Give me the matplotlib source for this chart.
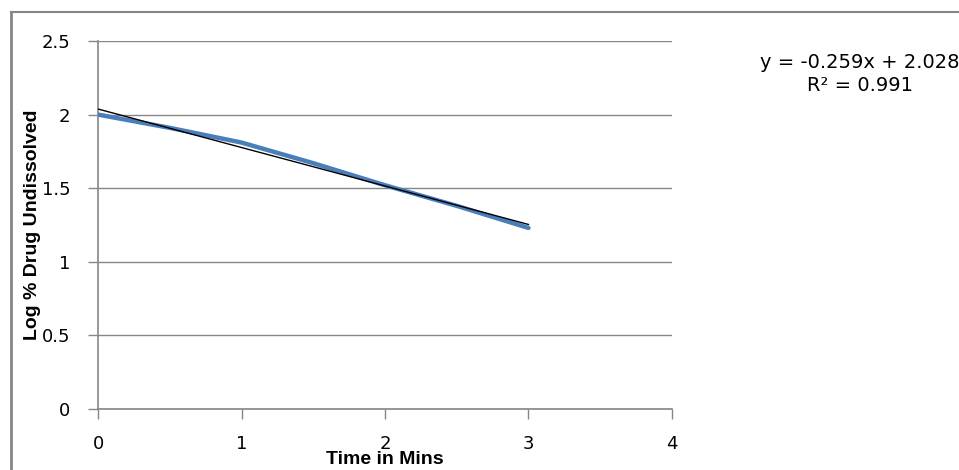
import matplotlib.pyplot as plt
import numpy as np
from matplotlib.lines import Line2D

#%% Data
time_mins = [0, 0.5, 1, 1.5, 2, 2.5, 3]
log_undissolved = [2.0, 1.91, 1.81, 1.67, 1.52, 1.38, 1.23]
eq_text = "y = -0.259x + 2.028"
r2_text = "R² = 0.991"

x_ticks = [0, 1, 2, 3, 4]
y_ticks = [0, 0.5, 1, 1.5, 2, 2.5]

#%% Plot
grey = '#868686'
fig = plt.figure(figsize=(9.59, 4.70), dpi=100)
ax = fig.add_axes([0.1022, 0.1298, 0.5985, 0.783])

ax.plot(time_mins, log_undissolved, color='#4a7ebb', linewidth=3.2, solid_capstyle='round', zorder=3)

# linear trendline
coef = np.polyfit(time_mins, log_undissolved, 1)
xt = np.array([time_mins[0], time_mins[-1]])
ax.plot(xt, np.polyval(coef, xt), color='black', linewidth=1, zorder=4)

ax.set_xlim(0, 4)
ax.set_ylim(0, 2.5)
ax.set_xticks(x_ticks)
ax.set_yticks(y_ticks)
ax.set_yticklabels([f"{v:g}" for v in y_ticks])
ax.yaxis.grid(True, color=grey, linewidth=1)
ax.set_axisbelow(True)
for s in ['top', 'right']:
    ax.spines[s].set_visible(False)
for s in ['left', 'bottom']:
    ax.spines[s].set_color(grey)
    ax.spines[s].set_linewidth(1.2)
ax.tick_params(axis='both', colors=grey, length=7, width=1, labelcolor='black', labelsize=13)
ax.tick_params(axis='y', pad=13)
ax.tick_params(axis='x', pad=12)

ax.set_xlabel("Time in Mins", fontsize=14, fontweight='bold', family='Liberation Sans')
ax.xaxis.set_label_coords(0.5, -0.113)
ax.set_ylabel("Log % Drug Undissolved", fontsize=14, fontweight='bold', family='Liberation Sans')
ax.yaxis.set_label_coords(-0.099, 0.5)

fig.text(0.897, 0.866, eq_text, ha='center', va='center', fontsize=14)
fig.text(0.897, 0.818, r2_text, ha='center', va='center', fontsize=14)

# outer chart border
fig.add_artist(Line2D([0.011, 0.011], [0, 0.975], color=grey, linewidth=2, transform=fig.transFigure))
fig.add_artist(Line2D([0.011, 1.0], [0.975, 0.975], color=grey, linewidth=1.5, transform=fig.transFigure))

fig.savefig('out.png', dpi=100)
